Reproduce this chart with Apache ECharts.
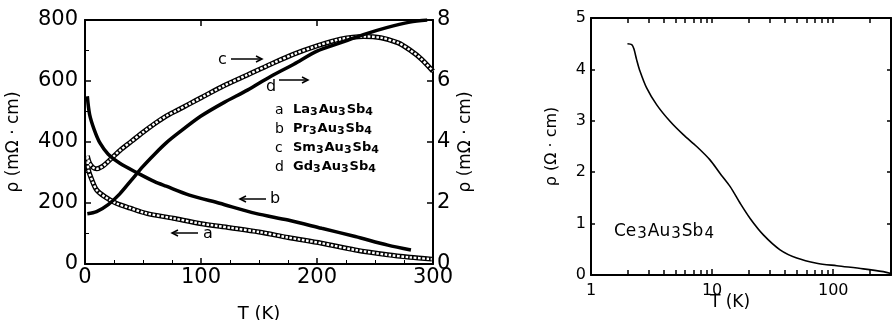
<!DOCTYPE html>
<html><head><meta charset="utf-8">
<script src="https://cdn.jsdelivr.net/npm/echarts@6.0.0/dist/echarts.min.js"></script>
<style>html,body{margin:0;padding:0;background:#fff}#c{width:892px;height:320px}</style>
</head><body><div id="c"></div>
<script>
// Left panel: La3Au3Sb4 (a) and Pr3Au3Sb4 (b) on left axis; Sm3Au3Sb4 (c) and Gd3Au3Sb4 (d) on right axis
var laT   = [2, 3, 6, 10, 17, 27, 39, 53, 76, 99, 125, 150, 175, 204, 233, 261, 280, 299];
var laRho = [350, 308, 275, 243, 221, 199, 183, 166, 150, 133, 119, 105, 87, 68, 46, 30, 22, 16];
var prT   = [2, 4, 8, 13, 20, 30, 46, 60, 70, 90, 116, 147, 175, 204, 233, 261, 281];
var prRho = [550, 490, 440, 396, 360, 330, 297, 270, 255, 226, 199, 166, 144, 117, 90, 62, 46];
var smT   = [2, 4, 7, 10, 15, 20, 30, 40, 50, 60, 70, 80, 90, 100, 120, 140, 160, 180, 200, 220, 240, 255, 270, 280, 290, 300];
var smRho = [3.55, 3.3, 3.16, 3.12, 3.2, 3.36, 3.72, 4.02, 4.32, 4.6, 4.85, 5.05, 5.25, 5.45, 5.85, 6.2, 6.55, 6.88, 7.15, 7.37, 7.46, 7.42, 7.25, 7.02, 6.72, 6.32];
var gdT   = [2, 10, 20, 30, 40, 50, 60, 70, 80, 100, 120, 140, 160, 180, 200, 220, 240, 260, 280, 295];
var gdRho = [1.65, 1.72, 1.95, 2.3, 2.75, 3.2, 3.6, 3.97, 4.28, 4.85, 5.3, 5.7, 6.15, 6.55, 6.98, 7.25, 7.52, 7.75, 7.93, 8.0];
// Right panel: Ce3Au3Sb4
var ceT   = [2, 2.17, 2.26, 2.38, 2.51, 2.88, 3.49, 4.49, 5.78, 7.46, 9.6, 11.6, 14.1, 17, 20.6, 26.5, 36.4, 50, 73, 107, 177, 259, 300];
var ceRho = [4.5, 4.48, 4.4, 4.19, 4.0, 3.64, 3.31, 2.99, 2.73, 2.5, 2.24, 1.98, 1.72, 1.40, 1.10, 0.78, 0.49, 0.33, 0.23, 0.18, 0.12, 0.065, 0.03];
var logTicks = [1,2,3,4,5,6,7,8,9,10,20,30,40,50,60,70,80,90,100,200,300];
var logLabels = [1, 10, 100];
var legendKeys = ['a', 'b', 'c', 'd'];
var legendNames = [['La','3','Au','3','Sb','4'], ['Pr','3','Au','3','Sb','4'], ['Sm','3','Au','3','Sb','4'], ['Gd','3','Au','3','Sb','4']];
var ceName = ['Ce','3','Au','3','Sb','4'];

function pairs(xs, ys){ return xs.map(function(x,i){ return [x, ys[i]]; }); }
function richFormula(parts){ return parts.map(function(p,i){ return (i%2 ? '{s|' : '{n|') + p + '}'; }).join(''); }
var FF = 'DejaVu Sans';
var K = '#000';
function axisBase(){
  return {
    axisLine:{show:true,onZero:false,lineStyle:{color:K,width:2}},
    axisTick:{show:true,inside:true,length:6,lineStyle:{color:K,width:1.5}},
    splitLine:{show:false},
    axisLabel:{color:K,fontFamily:FF}
  };
}
function merge(a,b){ for (var k in b){ if (b[k] && typeof b[k]==='object' && !Array.isArray(b[k]) && a[k] && typeof a[k]==='object') merge(a[k], b[k]); else a[k]=b[k]; } return a; }

var chart = echarts.init(document.getElementById('c'), null, {renderer:'canvas'});

var openLine = function(data, yIdx){
  return [
    {type:'line', xAxisIndex:0, yAxisIndex:yIdx, data:data, showSymbol:false, symbol:'none', smooth:0.3,
     lineStyle:{color:K, width:5}, z:3, silent:true},
    {type:'line', xAxisIndex:0, yAxisIndex:yIdx, data:data, showSymbol:false, symbol:'none', smooth:0.3,
     lineStyle:{color:'#fff', width:2.4, type:[2.6,1.6]}, z:4, silent:true}
  ];
};
var filledLine = function(data, yIdx){
  return {type:'line', xAxisIndex:0, yAxisIndex:yIdx, data:data, showSymbol:false, symbol:'none', smooth:0.3,
    lineStyle:{color:K, width:3.5}, z:5, silent:true};
};

var series = [];
series = series.concat(openLine(pairs(laT, laRho), 0));
series.push(filledLine(pairs(prT, prRho), 0));
series = series.concat(openLine(pairs(smT, smRho), 1));
series.push(filledLine(pairs(gdT, gdRho), 1));
series.push({type:'line', xAxisIndex:2, yAxisIndex:2, data:pairs(ceT, ceRho), showSymbol:false, symbol:'none', smooth:0.3,
  lineStyle:{color:K, width:1.6}, silent:true});

function arrow(x1, x2, y, headRight){
  var hx = headRight ? x2 : x1, d = headRight ? -6 : 6;
  return [
    {type:'line', shape:{x1:x1,y1:y,x2:x2,y2:y}, style:{stroke:K, lineWidth:1.5}},
    {type:'polyline', shape:{points:[[hx+d,y-3],[hx,y],[hx+d,y+3]]}, style:{stroke:K, lineWidth:1.5, fill:null}}
  ];
}
var graphics = [];
graphics.push({type:'text', x:218, y:60, style:{text:'c', font:'16px "DejaVu Sans"', fill:K, verticalAlign:'middle'}});
graphics = graphics.concat(arrow(231, 262, 59, true));
graphics.push({type:'text', x:266, y:87, style:{text:'d', font:'16px "DejaVu Sans"', fill:K, verticalAlign:'middle'}});
graphics = graphics.concat(arrow(279, 308, 80, true));
graphics = graphics.concat(arrow(240, 266, 199, false));
graphics.push({type:'text', x:270, y:199, style:{text:'b', font:'16px "DejaVu Sans"', fill:K, verticalAlign:'middle'}});
graphics = graphics.concat(arrow(172, 198, 233, false));
graphics.push({type:'text', x:203, y:234, style:{text:'a', font:'16px "DejaVu Sans"', fill:K, verticalAlign:'middle'}});
legendKeys.forEach(function(k, i){
  var y = 110 + i*19;
  graphics.push({type:'text', x:275, y:y, style:{text:k, font:'14px "DejaVu Sans"', fill:K, verticalAlign:'middle'}});
  graphics.push({type:'text', x:293, y:y, style:{text:richFormula(legendNames[i]), verticalAlign:'middle',
    rich:{n:{fontFamily:FF, fontWeight:'bold', fontSize:13, color:K, lineHeight:16},
          s:{fontFamily:FF, fontWeight:'bold', fontSize:11, color:K, lineHeight:16, verticalAlign:'bottom', padding:[3,1,0,0]}}}});
});
graphics.push({type:'text', x:614, y:232, style:{text:richFormula(ceName), verticalAlign:'middle',
  rich:{n:{fontFamily:FF, fontSize:17, color:K, lineHeight:19, padding:[0,1,0,0]},
        s:{fontFamily:FF, fontSize:15, color:K, lineHeight:19, verticalAlign:'bottom', padding:[3,1,0,0]}}}});
graphics.push({type:'text', x:730, y:303, style:{text:'T (K)', font:'17px "DejaVu Sans"', fill:K, align:'center', verticalAlign:'middle'}});

var option = {
  animation:false,
  backgroundColor:'#fff',
  grid:[
    {left:85, top:20, width:348, height:244, outerBoundsMode:'none', containLabel:false},
    {left:591, top:18, width:300, height:257, outerBoundsMode:'none', containLabel:false}
  ],
  xAxis:[
    merge(axisBase(), {type:'value', gridIndex:0, position:'bottom', min:0, max:300, interval:100,
      minorTick:{show:true, splitNumber:4, length:4, lineStyle:{color:K,width:1}},
      axisLabel:{fontSize:21, margin:3},
      name:'T (K)', nameLocation:'middle', nameGap:41, nameTextStyle:{fontFamily:FF, fontSize:18, color:K}}),
    merge(axisBase(), {type:'value', gridIndex:0, position:'top', min:0, max:300, interval:100,
      minorTick:{show:false}, axisLabel:{show:false}}),
    merge(axisBase(), {type:'log', logBase:10, gridIndex:1, position:'bottom', min:1, max:300,
      axisTick:{length:6, customValues:logLabels},
      axisLabel:{fontSize:16, margin:8, customValues:logLabels}}),
    merge(axisBase(), {type:'log', logBase:10, gridIndex:1, position:'top', min:1, max:300,
      axisTick:{length:5, customValues:logTicks}, axisLabel:{show:false}}),
    merge(axisBase(), {type:'log', logBase:10, gridIndex:1, position:'bottom', min:1, max:300,
      axisLine:{show:false}, axisTick:{length:5, customValues:logTicks}, axisLabel:{show:false}})
  ],
  yAxis:[
    merge(axisBase(), {type:'value', gridIndex:0, position:'left', min:0, max:800, interval:200,
      minorTick:{show:true, splitNumber:2, length:4, lineStyle:{color:K,width:1}},
      axisLabel:{fontSize:21, margin:7},
      name:'ρ (mΩ · cm)', nameLocation:'middle', nameGap:63, nameTextStyle:{fontFamily:FF, fontSize:17, color:K}}),
    merge(axisBase(), {type:'value', gridIndex:0, position:'right', min:0, max:8, interval:2,
      axisLabel:{fontSize:21, margin:4},
      name:'ρ (mΩ · cm)', nameLocation:'middle', nameGap:24, nameTextStyle:{fontFamily:FF, fontSize:17, color:K}}),
    merge(axisBase(), {type:'value', gridIndex:1, position:'left', min:0, max:5, interval:1,
      axisTick:{length:4}, axisLabel:{fontSize:16, margin:5},
      name:'ρ (Ω · cm)', nameLocation:'middle', nameGap:31, nameTextStyle:{fontFamily:FF, fontSize:16, color:K}}),
    merge(axisBase(), {type:'value', gridIndex:1, position:'right', min:0, max:5, interval:1,
      axisTick:{length:4}, axisLabel:{show:false}})
  ],
  series: series,
  graphic: graphics
};
chart.setOption(option);
</script>
</body></html>
